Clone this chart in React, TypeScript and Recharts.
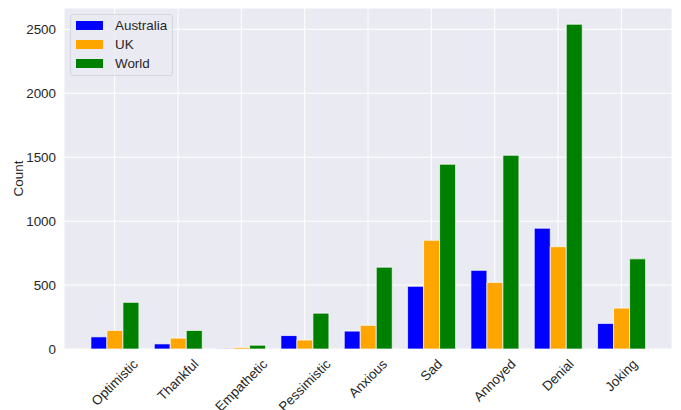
import React from 'react';
import { BarChart, Bar, XAxis, YAxis, CartesianGrid, Legend } from 'recharts';

const categories = ['Optimistic', 'Thankful', 'Empathetic', 'Pessimistic', 'Anxious', 'Sad', 'Annoyed', 'Denial', 'Joking'];
const australia = [95, 40, 3, 105, 140, 490, 615, 945, 200];
const uk = [145, 85, 12, 70, 185, 850, 520, 800, 320];
const world = [365, 145, 30, 280, 640, 1445, 1515, 2540, 705];
const yTicks = [0, 500, 1000, 1500, 2000, 2500];

const series = [
  { key: 'Australia', color: '#0000ff' },
  { key: 'UK', color: '#ffa500' },
  { key: 'World', color: '#008000' },
];

const data = categories.map((name, i) => ({
  name,
  Australia: australia[i],
  UK: uk[i],
  World: world[i],
}));

const FONT = '"Liberation Sans", Arial, sans-serif';
const FS = 13.4;
const TEXT = '#262626';

let ctx: CanvasRenderingContext2D | null = null;
const measure = (s: string) => {
  if (!ctx) {
    ctx = document.createElement('canvas').getContext('2d');
  }
  if (!ctx) return s.length * 7;
  ctx.font = `${FS}px ${FONT}`;
  return ctx.measureText(s).width;
};

// matplotlib-style rotation=45, ha=center: bbox centred under the tick
const AngledTick = (props: any) => {
  const { x, y, payload } = props;
  const w = measure(payload.value);
  const side = (w + FS) * Math.SQRT1_2;
  const cy = y + 8 + side / 2;
  return (
    <text
      x={x}
      y={cy}
      transform={`rotate(-45 ${x} ${cy})`}
      textAnchor="middle"
      dominantBaseline="central"
      fontSize={FS}
      fontFamily={FONT}
      fill={TEXT}
    >
      {payload.value}
    </text>
  );
};

const LegendBox = () => (
  <div
    style={{
      boxSizing: 'border-box',
      width: 103,
      height: 62,
      background: 'rgba(234,234,242,0.8)',
      border: '1px solid #d6d6de',
      borderRadius: 3,
      paddingTop: 1,
      paddingLeft: 5,
      fontFamily: FONT,
      fontSize: FS,
      color: TEXT,
    }}
  >
    {series.map((s) => (
      <div key={s.key} style={{ height: 19, display: 'flex', alignItems: 'center' }}>
        <span style={{ width: 27, height: 9, background: s.color, marginRight: 12, display: 'inline-block' }} />
        <span>{s.key}</span>
      </div>
    ))}
  </div>
);

export default function App() {
  return (
    <div style={{ position: 'absolute', left: 0, top: 0, width: 681, height: 410, background: '#fff' }}>
      <BarChart
        width={681}
        height={410}
        data={data}
        margin={{ top: 8, right: 9, left: 0, bottom: 0 }}
        barCategoryGap="12.5%"
        barGap={0}
      >
        <CartesianGrid fill="#eaeaf2" fillOpacity={1} stroke="#ffffff" strokeWidth={1} />
        <XAxis
          dataKey="name"
          height={61}
          padding={{ left: 19, right: 19 }}
          axisLine={false}
          tickLine={false}
          tickSize={0}
          tickMargin={0}
          interval={0}
          tick={<AngledTick />}
        />
        <YAxis
          width={64}
          domain={[0, 2667]}
          ticks={yTicks}
          allowDataOverflow
          axisLine={false}
          tickLine={false}
          tickSize={0}
          tickMargin={8}
          tick={{ fontSize: FS, fontFamily: FONT, fill: TEXT }}
          label={({ viewBox }: any) => {
            const cy = viewBox.y + viewBox.height / 2;
            return (
              <text
                x={18.5}
                y={cy}
                transform={`rotate(-90 18.5 ${cy})`}
                textAnchor="middle"
                dominantBaseline="central"
                fontSize={FS}
                fontFamily={FONT}
                fill={TEXT}
              >
                Count
              </text>
            );
          }}
        />
        <Legend
          layout="horizontal"
          verticalAlign="middle"
          align="center"
          wrapperStyle={{ left: 70, top: 14, width: 103, height: 62 }}
          content={<LegendBox />}
        />
        {series.map((s) => (
          <Bar
            key={s.key}
            dataKey={s.key}
            fill={s.color}
            stroke="#ffffff"
            strokeWidth={0.7}
            isAnimationActive={false}
          />
        ))}
      </BarChart>
    </div>
  );
}
